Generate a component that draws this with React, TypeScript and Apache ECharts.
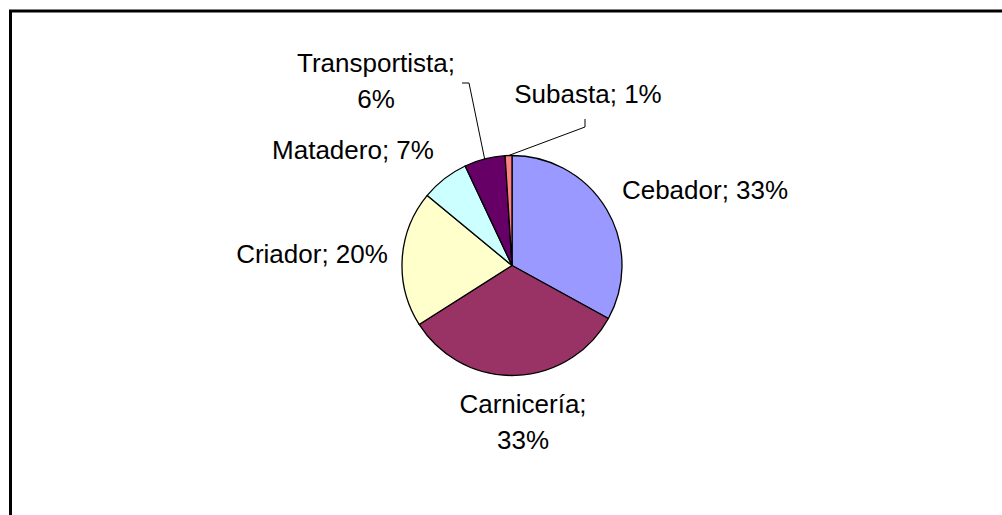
import React, { useEffect, useRef } from "react";
import * as echarts from "echarts";

const categories = ["Cebador", "Carnicería", "Criador", "Matadero", "Transportista", "Subasta"];
const values = [33, 33, 20, 7, 6, 1];
const colors = ["#9999FF", "#993366", "#FFFFCC", "#CCFFFF", "#660066", "#FF8080"];
const wrapped = [false, true, false, false, true, false];
const withLine = [false, false, false, false, true, true];

const labelPos: [number, number][] = [
  [705, 190],
  [523, 422],
  [312, 254],
  [353, 150],
  [376, 81],
  [588, 94],
];
// leader-line bend/end points (after the slice-edge start point)
const leaderTail: ([number, number][] | null)[] = [
  null,
  null,
  null,
  null,
  [[469, 83], [462, 83]],
  [[585, 127], [585, 119]],
];

export default function App() {
  const ref = useRef<HTMLDivElement>(null);
  useEffect(() => {
    if (!ref.current) return;
    const chart = echarts.init(ref.current, undefined, { renderer: "svg" });
    chart.setOption({
      animation: false,
      backgroundColor: "#ffffff",
      graphic: [
        {
          type: "rect",
          shape: { x: 10.5, y: 11, width: 1100, height: 600 },
          style: { fill: "none", stroke: "#000", lineWidth: 3 },
          z: 0,
        },
      ],
      series: [
        {
          type: "pie",
          center: [512, 265.5],
          radius: [0, 110],
          startAngle: 90,
          clockwise: true,
          minAngle: 0,
          avoidLabelOverlap: false,
          itemStyle: { borderColor: "#000", borderWidth: 1.3 },
          label: {
            show: true,
            position: "outside",
            fontFamily: "Liberation Sans, Arial, sans-serif",
            fontSize: 26,
            lineHeight: 36,
            color: "#000",
            align: "center",
          },
          labelLine: {
            show: true,
            length: 10,
            length2: 10,
            lineStyle: { color: "#000", width: 1 },
          },
          labelLayout: (params: any) => {
            const i = params.dataIndex;
            const p = labelPos[i];
            const out: any = { x: p[0], y: p[1], align: "center", verticalAlign: "middle" };
            const tail = leaderTail[i];
            if (tail && params.labelLinePoints && params.labelLinePoints[0]) {
              out.labelLinePoints = [params.labelLinePoints[0], ...tail];
            }
            return out;
          },
          emphasis: { disabled: true },
          data: categories.map((name, i) => ({
            name,
            value: values[i],
            itemStyle: { color: colors[i] },
            label: { formatter: wrapped[i] ? "{b};\n{c}%" : "{b}; {c}%" },
            labelLine: { show: withLine[i] },
          })),
        },
      ],
    });
    return () => chart.dispose();
  }, []);
  return (
    <div
      ref={ref}
      style={{ position: "fixed", left: 0, top: 0, width: 1002, height: 515 }}
    />
  );
}
